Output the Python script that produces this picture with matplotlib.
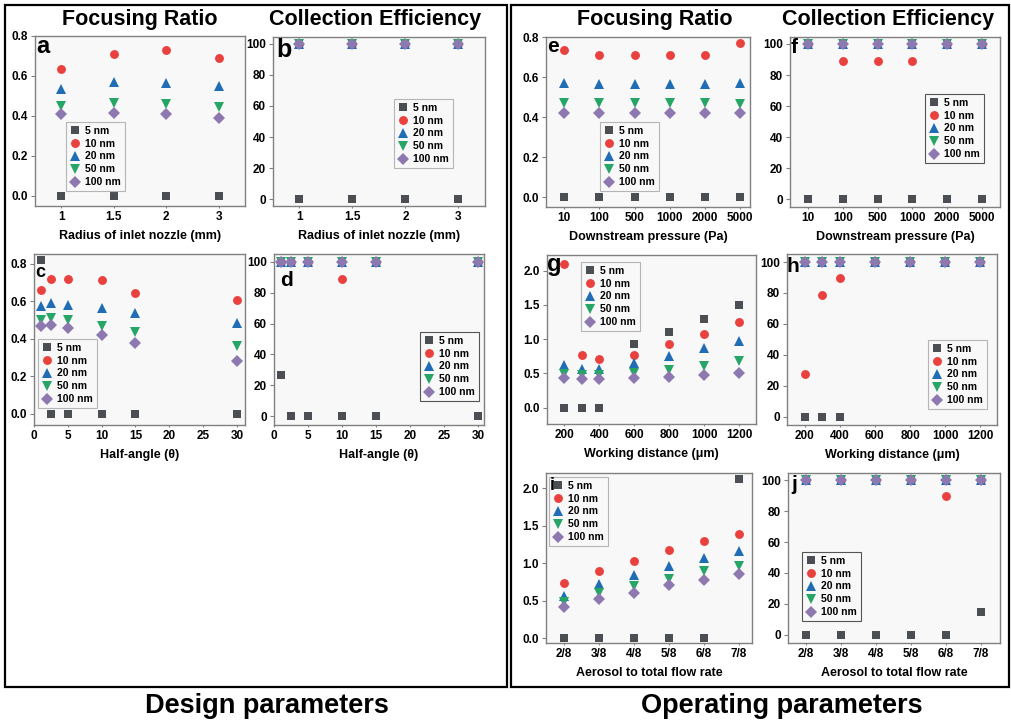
import numpy as np
import matplotlib.pyplot as plt
from matplotlib.patches import Rectangle

plt.rcParams['font.family'] = ['Liberation Sans', 'DejaVu Sans']
plt.rcParams['font.weight'] = 'bold'
plt.rcParams['axes.labelweight'] = 'bold'

# particle sizes and their styles
sizes = ['5 nm', '10 nm', '20 nm', '50 nm', '100 nm']
colors = ['#4b4e53', '#e8413e', '#1f6db5', '#27a567', '#8d78b0']
markers = ['s', 'o', '^', 'v', 'D']
msizes = [5.4, 6.4, 6.8, 6.8, 5.8]

# (a, b) radius of inlet nozzle
radius = ['1', '1.5', '2', '3']
ratio_radius = [[0, 0, 0, 0],
                [0.635, 0.708, 0.73, 0.69],
                [0.535, 0.572, 0.567, 0.552],
                [0.45, 0.467, 0.46, 0.447],
                [0.408, 0.413, 0.41, 0.39]]
eff_radius = [[0, 0, 0, 0],
              [100, 100, 100, 100],
              [100, 100, 100, 100],
              [100, 100, 100, 100],
              [100, 100, 100, 100]]

# (c, d) half-angle
half_angle = [1, 2.5, 5, 10, 15, 30]
ratio_angle = [[0.82, 0, 0, 0, 0, 0],
               [0.66, 0.72, 0.72, 0.715, 0.643, 0.61],
               [0.577, 0.59, 0.582, 0.567, 0.537, 0.487],
               [0.50, 0.51, 0.50, 0.47, 0.436, 0.36],
               [0.47, 0.475, 0.457, 0.418, 0.377, 0.283]]
eff_angle = [[27, 0, 0, 0, 0, 0],
             [100, 100, 100, 89, 100, 100],
             [100, 100, 100, 100, 100, 100],
             [100, 100, 100, 100, 100, 100],
             [100, 100, 100, 100, 100, 100]]

# (e, f) downstream pressure
pressure = ['10', '100', '500', '1000', '2000', '5000']
ratio_pressure = [[0, 0, 0, 0, 0, 0],
                  [0.737, 0.712, 0.712, 0.712, 0.71, 0.772],
                  [0.572, 0.567, 0.567, 0.567, 0.567, 0.572],
                  [0.468, 0.468, 0.468, 0.468, 0.47, 0.463],
                  [0.418, 0.418, 0.418, 0.418, 0.418, 0.418]]
eff_pressure = [[0, 0, 0, 0, 0, 0],
                [100, 89, 89, 89, 100, 100],
                [100, 100, 100, 100, 100, 100],
                [100, 100, 100, 100, 100, 100],
                [100, 100, 100, 100, 100, 100]]

# (g, h) working distance
distance = [200, 300, 400, 600, 800, 1000, 1200]
ratio_distance = [[0, 0, 0, 0.93, 1.10, 1.30, 1.50],
                  [2.10, 0.77, 0.71, 0.77, 0.93, 1.075, 1.245],
                  [0.625, 0.56, 0.56, 0.645, 0.755, 0.865, 0.97],
                  [0.49, 0.48, 0.48, 0.51, 0.55, 0.615, 0.675],
                  [0.43, 0.415, 0.415, 0.43, 0.45, 0.478, 0.503]]
eff_distance = [[0, 0, 0, 100, 100, 100, 100],
                [27.5, 79, 89.5, 100, 100, 100, 100],
                [100, 100, 100, 100, 100, 100, 100],
                [100, 100, 100, 100, 100, 100, 100],
                [100, 100, 100, 100, 100, 100, 100]]

# (i, j) aerosol to total flow rate
flow = ['2/8', '3/8', '4/8', '5/8', '6/8', '7/8']
ratio_flow = [[0, 0, 0, 0, 0, 2.125],
              [0.74, 0.903, 1.036, 1.178, 1.292, 1.394],
              [0.57, 0.725, 0.84, 0.97, 1.065, 1.16],
              [0.487, 0.607, 0.695, 0.79, 0.894, 0.97],
              [0.416, 0.53, 0.61, 0.708, 0.783, 0.86]]
eff_flow = [[0, 0, 0, 0, 0, 14.5],
            [100, 100, 100, 100, 89.6, 100],
            [100, 100, 100, 100, 100, 100],
            [100, 100, 100, 100, 100, 100],
            [100, 100, 100, 100, 100, 100]]

W, H = 1012, 723
fig = plt.figure(figsize=(W / 100, H / 100), dpi=100)


def fx(x):
    return x / W


def fy(y):
    return 1 - y / H


def panel(px, xs, series, cats, xlim, ylim, yticks, xticks, xlabel,
          leg_xy, label, label_xy, label_size, leg_edge='#b5b5b5'):
    l, t, r, b = px
    ax = fig.add_axes([fx(l), fy(b), (r - l) / W, (b - t) / H])
    ax.set_facecolor('#f8f8f8')
    if cats is not None:
        pos = np.arange(len(cats))
    else:
        pos = np.array(xs)
    for k in range(5):
        ax.plot(pos, series[k], linestyle='none', marker=markers[k],
                ms=msizes[k], color=colors[k], mew=0, label=sizes[k])
    ax.set_xlim(*xlim)
    ax.set_ylim(*ylim)
    ax.set_yticks(yticks)
    if cats is not None:
        ax.set_xticks(pos)
        ax.set_xticklabels(cats)
    else:
        ax.set_xticks(xticks)
    for s in ax.spines.values():
        s.set_color('#808080')
        s.set_linewidth(1)
    ax.tick_params(length=3, width=0.8, color='#808080', labelsize=8.5,
                   pad=2)
    ax.tick_params(axis='x', length=1.5)
    ax.set_xlabel(xlabel, fontsize=9, labelpad=5)
    leg = ax.legend(loc='upper left', bbox_to_anchor=(fx(leg_xy[0]), fy(leg_xy[1])),
                    bbox_transform=fig.transFigure, fontsize=7.5,
                    handlelength=1.0, handletextpad=0.5, labelspacing=0.28,
                    borderpad=0.35, borderaxespad=0, fancybox=False,
                    framealpha=1, facecolor='#f8f8f8', edgecolor=leg_edge)
    leg.get_frame().set_linewidth(0.8)
    fig.text(fx(label_xy[0]), fy(label_xy[1]), label, fontsize=label_size,
             fontweight='bold', ha='left', va='baseline')
    return ax


# Design parameters
panel((35, 36, 245, 206), None, ratio_radius, radius, (-0.5, 3.5), (-0.05, 0.8),
      [0, 0.2, 0.4, 0.6, 0.8], None, 'Radius of inlet nozzle (mm)',
      (66, 122), 'a', (36, 53), 17)
panel((273, 37, 485, 206), None, eff_radius, radius, (-0.5, 3.5), (-4.5, 104.5),
      [0, 20, 40, 60, 80, 100], None, 'Radius of inlet nozzle (mm)',
      (394, 99), 'b', (276, 57), 18)
panel((34, 254, 245, 425), half_angle, ratio_angle, None, (0, 31.2), (-0.06, 0.853),
      [0, 0.2, 0.4, 0.6, 0.8], [0, 5, 10, 15, 20, 25, 30], 'Half-angle (\u03b8)',
      (38, 339), 'c', (35, 277), 13)
panel((274, 254, 484, 425), half_angle, eff_angle, None, (0, 30.9), (-5.6, 105),
      [0, 20, 40, 60, 80, 100], [0, 5, 10, 15, 20, 25, 30], 'Half-angle (\u03b8)',
      (420, 332), 'd', (280, 286), 15, '#555555')

# Operating parameters
panel((546, 37, 750, 207), None, ratio_pressure, pressure, (-0.52, 5.28), (-0.05, 0.8),
      [0, 0.2, 0.4, 0.6, 0.8], None, 'Downstream pressure (Pa)',
      (600, 122), 'e', (547, 52), 15)
panel((790, 37, 1000, 207), None, eff_pressure, pressure, (-0.52, 5.52), (-5, 104.5),
      [0, 20, 40, 60, 80, 100], None, 'Downstream pressure (Pa)',
      (925, 94), 'f', (791, 53), 15, '#555555')
panel((547, 255, 756, 424), distance, ratio_distance, None, (100, 1295), (-0.24, 2.23),
      [0, 0.5, 1.0, 1.5, 2.0], [200, 400, 600, 800, 1000, 1200],
      'Working distance (\u03bcm)', (581, 262), 'g', (547, 271), 17)
panel((787, 254, 997, 425), distance, eff_distance, None, (100, 1295), (-5.4, 105.2),
      [0, 20, 40, 60, 80, 100], [200, 400, 600, 800, 1000, 1200],
      'Working distance (\u03bcm)', (928, 340), 'h', (787, 272), 15)
panel((546, 473, 752, 643), None, ratio_flow, flow, (-0.52, 5.38), (-0.06, 2.2),
      [0, 0.5, 1.0, 1.5, 2.0], None, 'Aerosol to total flow rate',
      (549, 477), 'i', (550, 490), 13)
panel((788, 473, 1000, 643), None, eff_flow, flow, (-0.52, 5.54), (-5.4, 104.7),
      [0, 20, 40, 60, 80, 100], None, 'Aerosol to total flow rate',
      (802, 552), 'j', (791, 490), 15, '#555555')

# column headers
for x, txt in [(140, 'Focusing Ratio'), (375, 'Collection Efficiency'),
               (655, 'Focusing Ratio'), (888, 'Collection Efficiency')]:
    fig.text(fx(x), fy(19), txt, fontsize=15.5, fontweight='bold',
             ha='center', va='center')

# outer frames
for l, r in [(5, 507), (511, 1009)]:
    fig.add_artist(Rectangle((fx(l), fy(687)), (r - l) / W, (687 - 5) / H,
                             transform=fig.transFigure, fill=False,
                             edgecolor='black', linewidth=1.6))

fig.text(fx(267), fy(706), 'Design parameters', fontsize=19.5, fontweight='bold',
         ha='center', va='center')
fig.text(fx(782), fy(706), 'Operating parameters', fontsize=19.5, fontweight='bold',
         ha='center', va='center')

fig.savefig('out.png', dpi=100, facecolor='white')
